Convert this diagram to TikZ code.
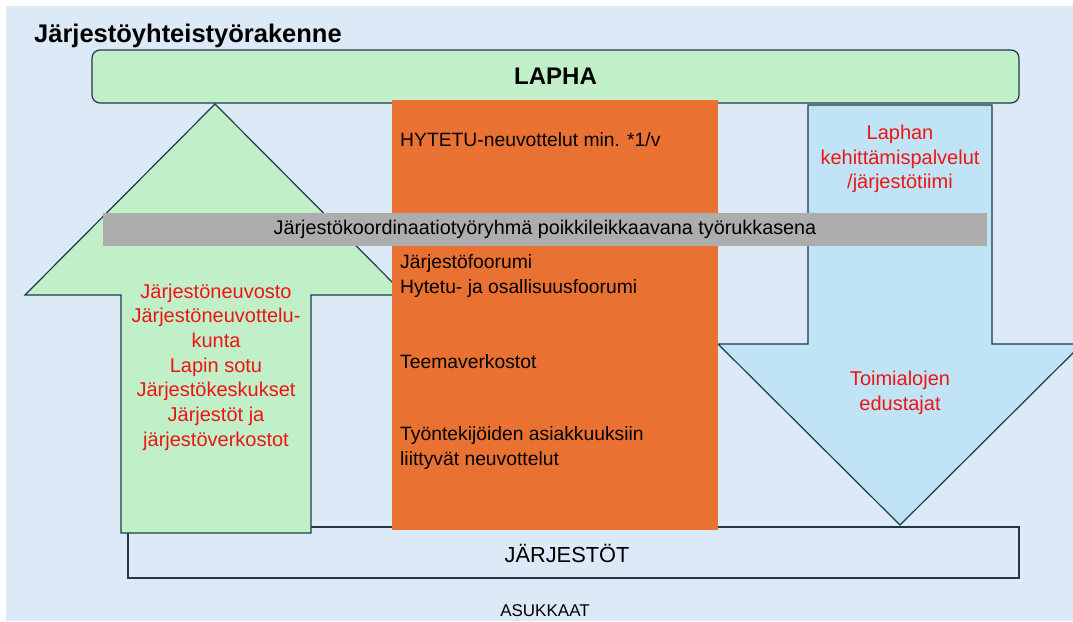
\documentclass[tikz,border=0pt]{standalone}
\usepackage{fontspec}
\setmainfont{Liberation Sans}
\usetikzlibrary{positioning}
\definecolor{pagebg}{RGB}{220,234,247}
\definecolor{laphagreen}{RGB}{193,240,200}
\definecolor{arrowblue}{RGB}{192,228,245}
\definecolor{forumorange}{RGB}{233,113,50}
\definecolor{bargray}{RGB}{173,173,173}
\definecolor{edgeblue}{RGB}{32,56,72}
\definecolor{notered}{RGB}{238,20,20}
\tikzset{shapeline/.style={draw=edgeblue, line width=1.2pt, line join=miter},
	%red texts inside the two arrows
	redtext/.style={text=notered, align=center, inner sep=0pt, font=\fontsize{20}{24.7}\selectfont},
	forumtext/.style={anchor=west, align=left, inner sep=0pt, font=\fontsize{19.3}{25}\selectfont}}

\begin{document}
\begin{tikzpicture}[x=1pt,y=-1pt]
		\useasboundingbox (0,0) rectangle (1073,621);
		\fill[white] (0,0) rectangle (1073,621);
		\fill[pagebg] (6,6) rectangle (1073,621);
		\node[anchor=base west, inner sep=0pt, font=\bfseries\fontsize{25.5}{25.5}\selectfont] (title) at (34,42) {Järjestöyhteistyörakenne};

		% bottom level
		\node[shapeline, minimum width=891pt, minimum height=51pt, inner sep=0pt] (jarjestot) at (573.5,552.5) {};
		\node[font=\fontsize{21.8}{21.8}\selectfont, inner sep=0pt] (jarjestotlabel) at (567,553) {JÄRJESTÖT};
		\node[font=\fontsize{17}{17}\selectfont, inner sep=0pt] (asukkaat) at (545,611) {ASUKKAAT};

		% top level
		\node[shapeline, fill=laphagreen, rounded corners=8pt, minimum width=927pt, minimum height=53pt, font=\bfseries\fontsize{24}{24}\selectfont] (lapha) at (555.5,76.5) {LAPHA};

		% arrows up and down
		\draw[shapeline, fill=laphagreen] (215,104) -- (405,295) -- (311,295) -- (311,533) -- (121,533) -- (121,295) -- (25,295) -- cycle;
		\draw[shapeline, fill=arrowblue] (808,105) -- (992,105) -- (992,344) -- (1082,344) -- (900,525) -- (718,344) -- (808,344) -- cycle;
		\node[redtext] (upnames) at (216,367) {Järjestöneuvosto\\Järjestöneuvottelu-\\kunta\\Lapin sotu\\Järjestökeskukset\\Järjestöt ja\\järjestöverkostot};
		\node[redtext] (kehittamis) at (900,159) {Laphan\\kehittämispalvelut\\/järjestötiimi};
		\node[redtext] (toimialat) at (900,393) {Toimialojen\\edustajat};

		% middle column
		\node[fill=forumorange, minimum width=326pt, minimum height=430pt, inner sep=0pt] (forum) at (555,315) {};
		\node[forumtext] (hytetu) at (400,140) {HYTETU-neuvottelut min. *1/v};
		\node[forumtext] (foorumit) at (400,276) {Järjestöfoorumi\\Hytetu- ja osallisuusfoorumi};
		\node[forumtext] (teemat) at (400,362) {Teemaverkostot};
		\node[forumtext] (asiakkuus) at (400,448.5) {Työntekijöiden asiakkuuksiin\\liittyvät neuvottelut};

		% cross bar
		\node[fill=bargray, minimum width=884pt, minimum height=33pt, inner sep=0pt, font=\fontsize{19.8}{19.8}\selectfont] (koordinaatio) at (545,229.5) {Järjestökoordinaatiotyöryhmä poikkileikkaavana työrukkasena};
	\end{tikzpicture}
\end{document}
